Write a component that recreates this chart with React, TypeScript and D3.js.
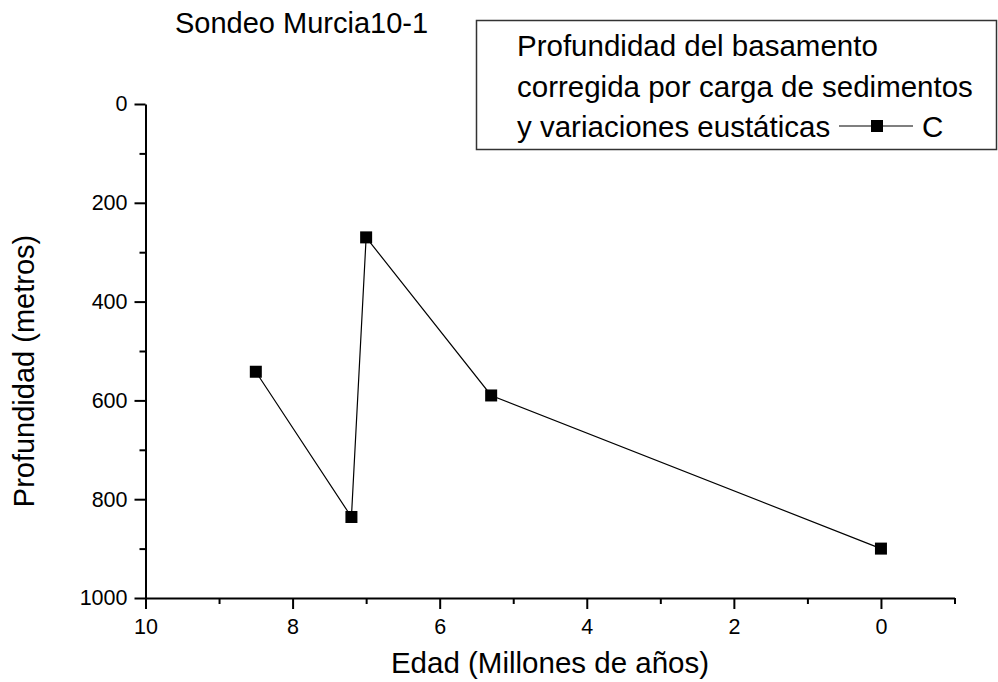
import React, { useEffect, useRef } from "react";
import * as d3 from "d3";

const ages = [8.5, 7.2, 7.0, 5.3, 0];
const depths = [542, 836, 270, 590, 900];
const xMajorTicks = [10, 8, 6, 4, 2, 0];
const xMinorTicks = [9, 7, 5, 3, 1, -1];
const yMajorTicks = [0, 200, 400, 600, 800, 1000];
const yMinorTicks = [100, 300, 500, 700, 900];
const titleText = "Sondeo Murcia10-1";
const legendLines = ["Profundidad del basamento", "corregida por carga de sedimentos", "y variaciones eustáticas"];
const seriesName = "C";
const xLabel = "Edad (Millones de años)";
const yLabel = "Profundidad (metros)";

const W = 998;
const H = 682;
const FONT = "'Liberation Sans', Arial, sans-serif";

export default function App() {
  const ref = useRef<SVGSVGElement>(null);

  useEffect(() => {
    const svg = d3.select(ref.current);
    svg.selectAll("*").remove();

    const x = d3.scaleLinear().domain([10, -1]).range([145.5, 954.5]);
    const y = d3.scaleLinear().domain([0, 1000]).range([104, 598]);

    // Title
    svg.append("text").attr("x", 175).attr("y", 33).attr("font-family", FONT).attr("font-size", 29).attr("fill", "#000").text(titleText);

    // Legend box
    const lg = svg.append("g");
    lg.append("rect").attr("x", 476.5).attr("y", 20.5).attr("width", 520).attr("height", 129).attr("fill", "#fff").attr("stroke", "#333").attr("stroke-width", 1.5);
    const lbase = [56, 97, 137];
    legendLines.forEach((t, i) => {
      lg.append("text").attr("x", 517).attr("y", lbase[i]).attr("font-family", FONT).attr("font-size", 29.5).attr("fill", "#000").text(t);
    });
    lg.append("line").attr("x1", 839).attr("x2", 913).attr("y1", 126).attr("y2", 126).attr("stroke", "#000").attr("stroke-width", 1.2);
    lg.append("rect").attr("x", 871).attr("y", 120).attr("width", 12).attr("height", 12).attr("fill", "#000");
    lg.append("text").attr("x", 922).attr("y", 137).attr("font-family", FONT).attr("font-size", 29.5).attr("fill", "#000").text(seriesName);

    // Axes
    const xAxis = d3.axisBottom(x).tickValues(xMajorTicks).tickSize(11).tickSizeOuter(0).tickPadding(10).tickFormat(d3.format("d") as any);
    const gx = svg.append("g").attr("transform", `translate(0,${y(1000)})`).call(xAxis);
    const xMinor = d3.axisBottom(x).tickValues(xMinorTicks).tickSize(6).tickSizeOuter(0).tickFormat(() => "");
    const gxm = svg.append("g").attr("transform", `translate(0,${y(1000)})`).call(xMinor);
    gxm.select(".domain").remove();

    const yAxis = d3.axisLeft(y).tickValues(yMajorTicks).tickSize(11).tickSizeOuter(0).tickPadding(7).tickFormat(d3.format("d") as any);
    const gy = svg.append("g").attr("transform", `translate(${x(10)},0)`).call(yAxis);
    const yMinor = d3.axisLeft(y).tickValues(yMinorTicks).tickSize(6).tickSizeOuter(0).tickFormat(() => "");
    const gym = svg.append("g").attr("transform", `translate(${x(10)},0)`).call(yMinor);
    gym.select(".domain").remove();

    [gx, gxm, gy, gym].forEach((g) => {
      g.selectAll("path, line").attr("stroke", "#000").attr("stroke-width", 2);
      g.selectAll("text").attr("font-family", FONT).attr("font-size", 21.5).attr("fill", "#000");
    });

    // Axis labels
    svg.append("text").attr("x", (x(10) + x(-1)) / 2).attr("y", 673).attr("text-anchor", "middle").attr("font-family", FONT).attr("font-size", 29.5).attr("fill", "#000").text(xLabel);
    svg.append("text").attr("transform", `translate(34,${(y(0) + y(1000)) / 2 + 20}) rotate(-90)`).attr("text-anchor", "middle").attr("font-family", FONT).attr("font-size", 29).attr("fill", "#000").text(yLabel);

    // Series
    const data = ages.map((a, i) => ({ a, d: depths[i] }));
    const line = d3.line<{ a: number; d: number }>().x((p) => x(p.a)).y((p) => y(p.d));
    svg.append("path").datum(data).attr("d", line).attr("fill", "none").attr("stroke", "#000").attr("stroke-width", 1.2);
    svg.selectAll("rect.pt").data(data).enter().append("rect").attr("class", "pt")
      .attr("x", (p) => x(p.a) - 6).attr("y", (p) => y(p.d) - 6).attr("width", 12).attr("height", 12).attr("fill", "#000");
  }, []);

  return (
    <svg ref={ref} width={W} height={H} style={{ position: "absolute", left: 0, top: 0, background: "#fff" }} />
  );
}
